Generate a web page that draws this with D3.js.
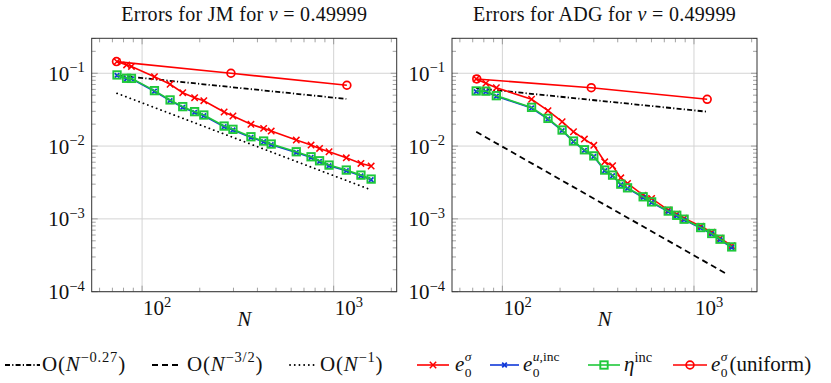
<!DOCTYPE html>
<html>
<head>
<meta charset="utf-8">
<script src="https://cdn.jsdelivr.net/npm/d3@7"></script>
<style>
  body { margin: 0; background: #fff; }
  text { font-family: "Liberation Serif", "DejaVu Serif", serif; fill: #111; }
</style>
</head>
<body>
<svg id="chart" width="831" height="383"></svg>
<script>
// ---- data ----
const jmN = [74, 83, 88, 116, 140, 163, 188, 210, 268, 298, 370, 431, 472, 638, 762, 844, 946, 1164, 1388, 1569];
const jmSigma = [0.1445, 0.130, 0.124, 0.0898, 0.0706, 0.0541, 0.0462, 0.0420, 0.0294, 0.0259, 0.01988, 0.01750, 0.01607, 0.01208, 0.01031, 0.00929, 0.00835, 0.00690, 0.00578, 0.00531];
const jmUinc = [0.0935, 0.0842, 0.0838, 0.0566, 0.0421, 0.0340, 0.0290, 0.0261, 0.01840, 0.01660, 0.01312, 0.01145, 0.01042, 0.00816, 0.00697, 0.00614, 0.00536, 0.00458, 0.00390, 0.00345];
const jmEta = [0.0948, 0.0853, 0.0850, 0.0577, 0.0430, 0.0348, 0.0297, 0.0267, 0.01882, 0.01697, 0.01343, 0.01172, 0.01066, 0.00835, 0.00713, 0.00628, 0.00548, 0.00468, 0.00399, 0.00352];

const adgN = [73, 82, 93, 142, 173, 205, 235, 268, 300, 342, 376, 415, 450, 543, 601, 734, 813, 888, 1084, 1238, 1368, 1574];
const adgSigma = [0.0835, 0.0728, 0.0633, 0.0439, 0.0306, 0.0216, 0.01573, 0.01248, 0.01023, 0.00608, 0.00536, 0.00366, 0.00307, 0.00212, 0.00191, 0.00132, 0.00116, 0.00102, 0.00079, 0.000657, 0.000543, 0.000428];
const adgUinc = [0.0560, 0.0557, 0.0483, 0.0333, 0.0235, 0.0163, 0.01150, 0.00872, 0.00719, 0.00459, 0.00391, 0.00294, 0.00262, 0.00197, 0.00168, 0.00126, 0.00110, 0.00097, 0.00075, 0.00062, 0.000516, 0.000405];
const adgEta = [0.0571, 0.0568, 0.0492, 0.0340, 0.0240, 0.0166, 0.01172, 0.00889, 0.00733, 0.00468, 0.00399, 0.00300, 0.00267, 0.00201, 0.00171, 0.00128, 0.00112, 0.00099, 0.00076, 0.00063, 0.000526, 0.000412];

const uniformN = [73.5, 291, 1172];
const jmUniform = [0.1445, 0.1, 0.0684];
const adgUniform = [0.0835, 0.0633, 0.0439];

// reference slopes, [N, value] end points
const jmSlow = [[74, 0.0935], [1164, 0.0444]];
const jmFirst = [[74, 0.053], [1569, 0.0025]];
const adgSlow = [[73, 0.0624], [1164, 0.0297]];
const adgThreeHalf = [[73, 0.0157], [1500, 0.000172]];

const xTickLabels = ["2", "3"];
const yTickLabels = ["−4", "−3", "−2", "−1"];

const RED = "#ff0000", BLUE = "#1038d8", GREEN = "#1fc83a";
const DASHDOT = "5,2.2,1.2,2.2", DASHED = "6,4", DOTTED = "0.1,4.6";
const FS = 21, SS = 14.5, LS = 13.5;

const svg = d3.select("#chart");

function zip(a, b) { return a.map((v, i) => [v, b[i]]); }

function drawPanel(left, title, series, refs) {
  const top = 38.3, bottom = 291.7, w = 305;
  const x = d3.scaleLog().domain([10 ** 1.737, 10 ** 3.329]).range([left, left + w]);
  const y = d3.scaleLog().domain([1e-4, 10 ** -0.52]).range([bottom, top]);
  const g = svg.append("g");

  const xt = x.ticks(), yt = y.ticks();
  const isMajor = v => Math.abs(Math.log10(v) - Math.round(Math.log10(v))) < 1e-9;

  // grid
  g.selectAll(".gx").data(xt.filter(isMajor)).enter().append("line")
    .attr("x1", d => x(d)).attr("x2", d => x(d)).attr("y1", top).attr("y2", bottom)
    .attr("stroke", "#d4d4d4").attr("stroke-width", 1);
  g.selectAll(".gy").data(yt.filter(isMajor)).enter().append("line")
    .attr("y1", d => y(d)).attr("y2", d => y(d)).attr("x1", left).attr("x2", left + w)
    .attr("stroke", "#d4d4d4").attr("stroke-width", 1);

  // ticks, inward on all sides
  const tk = "#8a8a8a";
  xt.forEach(v => {
    const L = isMajor(v) ? 6 : 4;
    g.append("line").attr("x1", x(v)).attr("x2", x(v)).attr("y1", bottom).attr("y2", bottom - L).attr("stroke", tk).attr("stroke-width", 0.8);
    g.append("line").attr("x1", x(v)).attr("x2", x(v)).attr("y1", top).attr("y2", top + L).attr("stroke", tk).attr("stroke-width", 0.8);
  });
  yt.forEach(v => {
    const L = isMajor(v) ? 6 : 4;
    g.append("line").attr("y1", y(v)).attr("y2", y(v)).attr("x1", left).attr("x2", left + L).attr("stroke", tk).attr("stroke-width", 0.8);
    g.append("line").attr("y1", y(v)).attr("y2", y(v)).attr("x1", left + w).attr("x2", left + w - L).attr("stroke", tk).attr("stroke-width", 0.8);
  });

  // tick labels
  [100, 1000].forEach((v, i) => {
    const t = g.append("text").attr("x", x(v) + 1).attr("y", 315).attr("font-size", FS);
    t.append("tspan").text("10");
    t.append("tspan").attr("dy", -8.5).attr("font-size", SS).text(xTickLabels[i]);
  });
  [1e-4, 1e-3, 1e-2, 1e-1].forEach((v, i) => {
    const t = g.append("text").attr("x", left - 7).attr("y", y(v) + 7.5).attr("font-size", FS).attr("text-anchor", "end");
    t.append("tspan").text("10");
    t.append("tspan").attr("dy", -8.5).attr("font-size", SS).text(yTickLabels[i]);
  });

  g.append("text").attr("x", left + w / 2).attr("y", 326).attr("text-anchor", "middle")
    .attr("font-size", FS).attr("font-style", "italic").text("N");

  const tt = g.append("text").attr("x", left + w / 2).attr("y", 20.5).attr("text-anchor", "middle")
    .attr("font-size", 20).attr("letter-spacing", 0.3);
  tt.append("tspan").text(title + " for ");
  tt.append("tspan").attr("font-style", "italic").text("ν");
  tt.append("tspan").text(" = 0.49999");

  const line = d3.line().x(d => x(d[0])).y(d => y(d[1]));

  // reference lines
  refs.forEach(r => {
    g.append("path").attr("d", line(r.pts)).attr("fill", "none").attr("stroke", "#000")
      .attr("stroke-width", 1.8).attr("stroke-dasharray", r.dash).attr("stroke-linecap", r.dash === DOTTED ? "round" : "butt");
  });

  // data series
  series.forEach(s => {
    const pts = zip(s.n, s.v);
    g.append("path").attr("d", line(pts)).attr("fill", "none").attr("stroke", s.color).attr("stroke-width", 1.6);
    pts.forEach(p => marker(g, s.mark, x(p[0]), y(p[1]), s.color));
  });

  // frame
  g.append("rect").attr("x", left).attr("y", top).attr("width", w).attr("height", bottom - top)
    .attr("fill", "none").attr("stroke", "#333").attr("stroke-width", 1);
}

function marker(g, kind, cx, cy, color) {
  if (kind === "x" || kind === "xs") {
    const h = kind === "x" ? 3.2 : 2.3;
    g.append("path").attr("d", `M${cx - h},${cy - h}L${cx + h},${cy + h}M${cx - h},${cy + h}L${cx + h},${cy - h}`)
      .attr("stroke", color).attr("stroke-width", kind === "x" ? 1.5 : 1.8).attr("fill", "none");
  } else if (kind === "s") {
    g.append("rect").attr("x", cx - 3.7).attr("y", cy - 3.7).attr("width", 7.4).attr("height", 7.4)
      .attr("fill", "none").attr("stroke", color).attr("stroke-width", 1.9);
  } else if (kind === "o") {
    g.append("circle").attr("cx", cx).attr("cy", cy).attr("r", 3.9)
      .attr("fill", "none").attr("stroke", color).attr("stroke-width", 1.7);
  }
}

drawPanel(91.7, "Errors for JM", [
  { n: jmN, v: jmSigma, color: RED, mark: "x" },
  { n: jmN, v: jmUinc, color: BLUE, mark: "xs" },
  { n: jmN, v: jmEta, color: GREEN, mark: "s" },
  { n: uniformN, v: jmUniform, color: RED, mark: "o" }
], [
  { pts: jmSlow, dash: DASHDOT },
  { pts: jmFirst, dash: DOTTED }
]);

drawPanel(452, "Errors for ADG", [
  { n: adgN, v: adgSigma, color: RED, mark: "x" },
  { n: adgN, v: adgUinc, color: BLUE, mark: "xs" },
  { n: adgN, v: adgEta, color: GREEN, mark: "s" },
  { n: uniformN, v: adgUniform, color: RED, mark: "o" }
], [
  { pts: adgSlow, dash: DASHDOT },
  { pts: adgThreeHalf, dash: DASHED }
]);

// ---- legend ----
const lg = svg.append("g");
const ly = 365, lb = 371;

function legSample(x0, x1, color, dash, mark) {
  lg.append("line").attr("x1", x0).attr("x2", x1).attr("y1", ly).attr("y2", ly)
    .attr("stroke", color).attr("stroke-width", dash ? 1.8 : 1.6)
    .attr("stroke-dasharray", dash || null).attr("stroke-linecap", dash === DOTTED ? "round" : "butt");
  if (mark) marker(lg, mark, (x0 + x1) / 2, ly, color);
}
function bigO(x0, sup) {
  const t = lg.append("text").attr("x", x0).attr("y", lb).attr("font-size", FS).attr("letter-spacing", 0.8);
  t.append("tspan").text("O(");
  t.append("tspan").attr("font-style", "italic").text("N");
  t.append("tspan").attr("dy", -9).attr("font-size", SS).text(sup);
  t.append("tspan").attr("dy", 9).text(")");
}
// e with subscript 0 and a superscript stacked above it, in one text element
function eSym(x0, sup, supItalic, tail) {
  const t = lg.append("text").attr("x", x0).attr("y", lb).attr("font-size", FS);
  t.append("tspan").attr("font-style", "italic").text("e");
  t.append("tspan").attr("dx", 0.5).attr("dy", 5.5).attr("font-size", LS).text("0");
  sup.forEach((p, i) => t.append("tspan")
    .attr("dx", i === 0 ? -LS * 0.5 : 0).attr("dy", i === 0 ? -16 : 0)
    .attr("font-size", LS).attr("font-style", supItalic[i] ? "italic" : "normal").text(p));
  if (tail) t.append("tspan").attr("dx", 2).attr("dy", 10.5).text(tail);
}

legSample(5, 40, "#000", DASHDOT);
bigO(42, "−0.27");
legSample(152, 182, "#000", DASHED);
bigO(187, "−3/2");
legSample(290, 318, "#000", DOTTED);
bigO(320, "−1");

legSample(417, 449, RED, null, "x");
eSym(455, ["σ"], [true]);
legSample(490, 519, BLUE, null, "xs");
eSym(523, ["u", ",inc"], [true, false]);
legSample(588, 620, GREEN, null, "s");
const et = lg.append("text").attr("x", 624).attr("y", lb).attr("font-size", FS);
et.append("tspan").attr("font-style", "italic").text("η");
et.append("tspan").attr("dy", -9).attr("font-size", SS).text("inc");
legSample(673, 707, RED, null, "o");
eSym(711, ["σ"], [true], "(uniform)");
</script>
</body>
</html>
